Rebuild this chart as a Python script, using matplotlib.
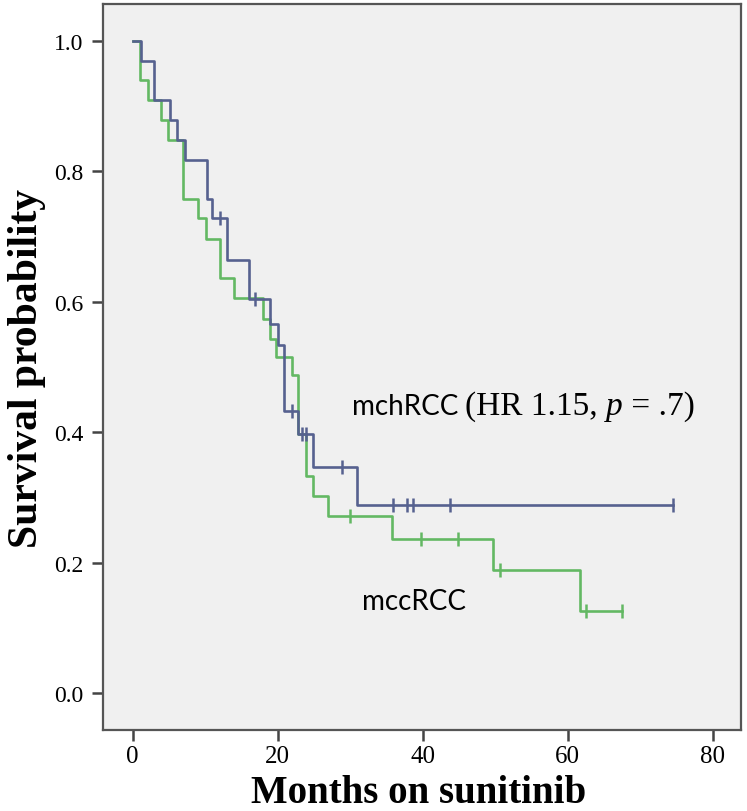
import matplotlib
matplotlib.use("Agg")
import matplotlib.pyplot as plt

# ---- data ----
mch_times = [0, 1.2, 3.0, 5.1, 6.1, 7.2, 10.2, 10.9, 13.0, 16.0, 18.9, 20.0, 20.8, 22.8, 24.9, 30.9, 74.5]
mch_surv = [1.0, 0.970, 0.909, 0.879, 0.848, 0.818, 0.758, 0.728, 0.664, 0.605, 0.566, 0.533, 0.433, 0.397, 0.347, 0.289, 0.289]
mch_cens_t = [12.0, 16.8, 21.9, 23.3, 23.9, 28.8, 35.9, 37.8, 38.7, 43.7, 74.5]
mch_cens_s = [0.728, 0.605, 0.433, 0.397, 0.397, 0.347, 0.289, 0.289, 0.289, 0.289, 0.289]

mcc_times = [0, 1.0, 2.1, 3.95, 4.9, 6.9, 9.0, 10.1, 12.1, 13.9, 18.0, 18.9, 19.8, 21.9, 22.8, 23.9, 24.9, 26.9, 35.7, 49.7, 61.7, 67.5]
mcc_surv = [1.0, 0.940, 0.909, 0.879, 0.848, 0.758, 0.728, 0.697, 0.637, 0.606, 0.574, 0.543, 0.515, 0.487, 0.397, 0.333, 0.302, 0.272, 0.236, 0.189, 0.125, 0.125]
mcc_cens_t = [29.9, 39.8, 44.9, 50.6, 62.5, 67.5]
mcc_cens_s = [0.272, 0.236, 0.236, 0.189, 0.125, 0.125]

x_ticks = [0, 20, 40, 60, 80]
y_ticks = [0.0, 0.2, 0.4, 0.6, 0.8, 1.0]
y_tick_labels = ["0.0", "0.2", "0.4", "0.6", "0.8", "1.0"]

BLUE = "#56618f"
GREEN = "#63b863"
SERIF = "Liberation Serif"

fig = plt.figure(figsize=(7.47, 8.12), dpi=100)
fig.patch.set_facecolor("white")
ax = fig.add_axes([103 / 747, 1 - 731 / 812, (741 - 103) / 747, (731 - 5) / 812])
ax.set_facecolor("#f0f0f0")

ax.step(mcc_times, mcc_surv, where="post", color=GREEN, lw=1.9, zorder=2)
ax.plot(mcc_cens_t, mcc_cens_s, ls="none", marker="|", ms=10, mew=1.8, color=GREEN, zorder=2)
ax.step(mch_times, mch_surv, where="post", color=BLUE, lw=1.9, zorder=3)
ax.plot(mch_cens_t, mch_cens_s, ls="none", marker="|", ms=10, mew=1.8, color=BLUE, zorder=3)

ax.set_xlim(-4.1, 83.9)
ax.set_ylim(-0.057, 1.057)
ax.set_xticks(x_ticks)
ax.set_xticklabels([str(v) for v in x_ticks], fontfamily=SERIF, fontsize=18)
ax.set_yticks(y_ticks)
ax.set_yticklabels(y_tick_labels, fontfamily=SERIF, fontsize=17)
ax.tick_params(axis="both", direction="out", length=8, width=1.8, color="#444444", pad=6)
ax.tick_params(axis="x", pad=3)

for s in ax.spines.values():
    s.set_color("#555555")
    s.set_linewidth(1.6)

# x label placed by its baseline so it sits tight under the tick labels
fig.text((103 + 741) / 2 / 747 - 0.004, 1 - 803 / 812, "Months on sunitinib", fontfamily=SERIF,
         fontweight="bold", fontsize=28, ha="center", va="baseline")
ax.set_ylabel("Survival probability", fontfamily=SERIF, fontweight="bold", fontsize=30, labelpad=6)

# annotation with mixed fonts
t1 = ax.text(30.2, 0.4286, "mchRCC ", fontfamily="Lato", fontsize=20, va="baseline", ha="left")
prev = t1
for txt, style in [("(HR 1.15, ", "normal"), ("p", "italic"), (" = .7)", "normal")]:
    prev = ax.annotate(txt, xy=(1, 0.4286), xycoords=(prev, "data"), fontfamily=SERIF,
                       fontstyle=style, fontsize=24, va="baseline", ha="left")
ax.text(31.6, 0.129, "mccRCC", fontfamily="Lato", fontsize=20, va="baseline", ha="left")

fig.savefig("out.png", dpi=100)
